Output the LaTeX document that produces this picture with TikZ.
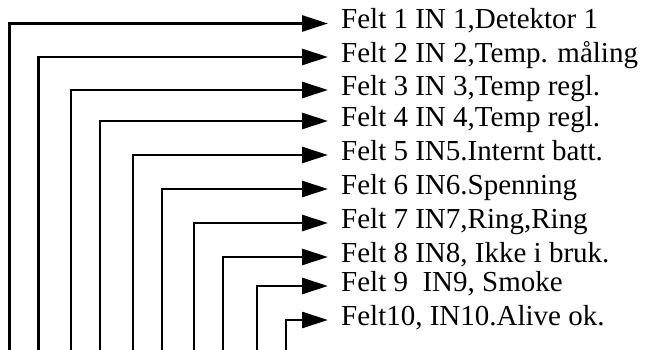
\documentclass[tikz,border=0pt]{standalone}
\usepackage{fontspec}
\setmainfont{Liberation Serif}
\usetikzlibrary{arrows.meta}
\begin{document}
\begin{tikzpicture}[x=1pt,y=-1pt,
  conn/.style={line width=2.8pt,-{Triangle[length=26pt,width=16pt]}},
  lab/.style={anchor=base west,inner sep=0pt,font=\fontsize{29}{31}\selectfont}]
\useasboundingbox (0,0) rectangle (650,350);
\foreach \i/\x/\y/\t in {
  1/9.5/23.5/{Felt 1 IN 1,Detektor 1},
  2/38.5/57/{Felt 2 IN 2,Temp. måling},
  3/71/90/{Felt 3 IN 3,Temp regl.},
  4/100/121/{Felt 4 IN 4,Temp regl.},
  5/133/155/{Felt 5 IN5.Internt batt.},
  6/162/189/{Felt 6 IN6.Spenning},
  7/194/223/{Felt 7 IN7,Ring,Ring},
  8/223/257/{Felt 8 IN8, Ikke i bruk.},
  9/257/286/{Felt 9\ \ IN9, Smoke},
  10/286/320/{Felt10, IN10.Alive ok.}}{
  \coordinate (s\i) at (\x,352);
  \coordinate (t\i) at (328,\y);
  \node[lab] (l\i) at (341,\y+5.5) {\t};
  \draw[conn] (s\i) |- (t\i);
}
\end{tikzpicture}
\end{document}
